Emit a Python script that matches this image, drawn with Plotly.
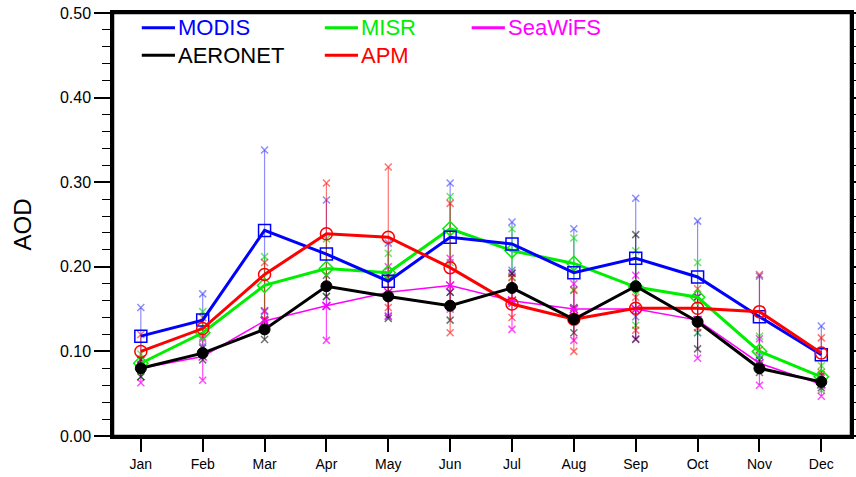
import plotly.graph_objects as go

months = ["Jan", "Feb", "Mar", "Apr", "May", "Jun", "Jul", "Aug", "Sep", "Oct", "Nov", "Dec"]
month_num = list(range(1, 13))

modis_mean = [0.118, 0.137, 0.243, 0.215, 0.183, 0.235, 0.227, 0.193, 0.210, 0.188, 0.141, 0.096]
modis_hi   = [0.152, 0.168, 0.338, 0.279, 0.228, 0.299, 0.253, 0.245, 0.281, 0.254, 0.189, 0.130]
modis_lo   = [0.085, 0.106, 0.147, 0.153, 0.141, 0.170, 0.196, 0.141, 0.141, 0.122, 0.095, 0.063]

misr_mean = [0.086, 0.122, 0.178, 0.198, 0.193, 0.245, 0.219, 0.204, 0.176, 0.164, 0.100, 0.070]
misr_hi   = [0.097, 0.147, 0.212, 0.233, 0.216, 0.283, 0.245, 0.234, 0.219, 0.205, 0.118, 0.083]
misr_lo   = [0.070, 0.099, 0.148, 0.165, 0.167, 0.205, 0.188, 0.173, 0.131, 0.122, 0.080, 0.054]

seawifs_mean = [0.080, 0.094, 0.136, 0.154, 0.170, 0.178, 0.160, 0.150, 0.150, 0.137, 0.086, 0.061]
seawifs_hi   = [0.090, 0.115, 0.148, 0.178, 0.200, 0.210, 0.193, 0.180, 0.190, 0.165, 0.115, 0.070]
seawifs_lo   = [0.063, 0.066, 0.128, 0.113, 0.142, 0.150, 0.126, 0.113, 0.115, 0.092, 0.060, 0.047]

aeronet_mean = [0.080, 0.098, 0.126, 0.177, 0.165, 0.154, 0.175, 0.138, 0.177, 0.135, 0.080, 0.064]
aeronet_hi   = [0.090, 0.104, 0.138, 0.190, 0.190, 0.170, 0.192, 0.152, 0.238, 0.164, 0.090, 0.072]
aeronet_lo   = [0.070, 0.090, 0.114, 0.165, 0.139, 0.137, 0.157, 0.122, 0.114, 0.103, 0.075, 0.057]

apm_mean = [0.100, 0.127, 0.191, 0.239, 0.235, 0.199, 0.156, 0.138, 0.151, 0.151, 0.147, 0.098]
apm_hi   = [0.120, 0.140, 0.205, 0.299, 0.318, 0.275, 0.187, 0.172, 0.164, 0.174, 0.191, 0.116]
apm_lo   = [0.080, 0.117, 0.137, 0.177, 0.152, 0.122, 0.140, 0.100, 0.125, 0.128, 0.102, 0.075]

series = [
    # name, mean, hi, lo, color, bar color, marker, size, line width, marker fill
    ("MODIS", modis_mean, modis_hi, modis_lo, "#0000ff", "rgba(0,0,255,0.45)", "square-open", 12, 3, None),
    ("MISR", misr_mean, misr_hi, misr_lo, "#00ee00", "rgba(0,220,0,0.6)", "diamond-open", 11, 3, None),
    ("SeaWiFS", seawifs_mean, seawifs_hi, seawifs_lo, "#ff00ff", "rgba(255,0,255,0.7)", "x-thin-open", 8, 1.5, None),
    ("AERONET", aeronet_mean, aeronet_hi, aeronet_lo, "#000000", "rgba(0,0,0,0.55)", "circle", 11, 3, "#000000"),
    ("APM", apm_mean, apm_hi, apm_lo, "#ff0000", "rgba(255,0,0,0.55)", "circle-open", 12, 3, None),
]

fig = go.Figure()

# error bars first
for name, mean, hi, lo, col, bcol, sym, size, lw, fill in series:
    xs, ys = [], []
    for m, h, l in zip(month_num, hi, lo):
        xs += [m, m, None]
        ys += [l, h, None]
    fig.add_trace(go.Scatter(x=xs, y=ys, mode="lines", line=dict(color=bcol, width=1.2),
                             showlegend=False, hoverinfo="skip"))
    fig.add_trace(go.Scatter(x=month_num + month_num, y=hi + lo, mode="markers",
                             marker=dict(symbol="x-thin-open", size=7, color=bcol,
                                         line=dict(color=bcol, width=1.5)),
                             showlegend=False, hoverinfo="skip"))

order = ["SeaWiFS", "MISR", "MODIS", "APM", "AERONET"]
for nm in order:
    for name, mean, hi, lo, col, bcol, sym, size, lw, fill in series:
        if name != nm:
            continue
        mk = dict(symbol=sym, size=size, color=col if fill is None else fill,
                  line=dict(color=col, width=1.5 if fill is None else 1))
        fig.add_trace(go.Scatter(x=month_num, y=mean, mode="lines+markers", name=name,
                                 line=dict(color=col, width=lw), marker=mk, showlegend=False))

# legend drawn manually
legend_items = [
    ("MODIS", "#0000ff", 0.039, 0.965),
    ("MISR", "#00ee00", 0.287, 0.965),
    ("SeaWiFS", "#ff00ff", 0.486, 0.965),
    ("AERONET", "#000000", 0.039, 0.900),
    ("APM", "#ff0000", 0.287, 0.900),
]
for txt, col, x0, y0 in legend_items:
    fig.add_shape(type="line", xref="paper", yref="paper", x0=x0, x1=x0 + 0.045, y0=y0, y1=y0,
                  line=dict(color=col, width=3))
    fig.add_annotation(xref="paper", yref="paper", x=x0 + 0.046, y=y0, text=txt, showarrow=False,
                       xanchor="left", yanchor="middle",
                       font=dict(family="Liberation Sans, Arial", size=22, color=col))

# plot frame
fig.add_shape(type="rect", xref="paper", yref="paper", x0=0, x1=1, y0=0, y1=1,
              line=dict(color="black", width=2.5), layer="above")

fig.update_layout(
    width=856, height=477,
    margin=dict(l=113, r=5, t=13, b=41, autoexpand=False),
    paper_bgcolor="white", plot_bgcolor="white",
    font=dict(family="Liberation Sans, Arial", color="black"),
    showlegend=False,
)
fig.update_xaxes(
    range=[0.55, 12.48], tickmode="array", tickvals=month_num, ticktext=months,
    ticks="outside", ticklen=13, tickwidth=2, tickcolor="black",
    showline=True, linewidth=2.5, linecolor="black", mirror=True,
    showgrid=False, zeroline=False, tickfont=dict(size=14), automargin=False,
    ticklabeloverflow="allow",
)
fig.update_yaxes(
    range=[0, 0.5], tickmode="array", tickvals=[0, 0.1, 0.2, 0.3, 0.4, 0.5],
    ticktext=["0.00", "0.10", "0.20", "0.30", "0.40", "0.50"],
    ticks="outside", ticklen=16, tickwidth=2, tickcolor="black",
    minor=dict(dtick=0.02, ticks="outside", ticklen=8, tickwidth=1, tickcolor="black"),
    showline=True, linewidth=2.5, linecolor="black", mirror="ticks",
    showgrid=False, zeroline=False, tickfont=dict(size=16), automargin=False,
    ticklabeloverflow="allow",
    title=dict(text="AOD", font=dict(size=24), standoff=22),
)

fig.write_html("out.html", config={"displayModeBar": False},
               post_script="document.body.style.margin='0';document.body.style.overflow='hidden';")
